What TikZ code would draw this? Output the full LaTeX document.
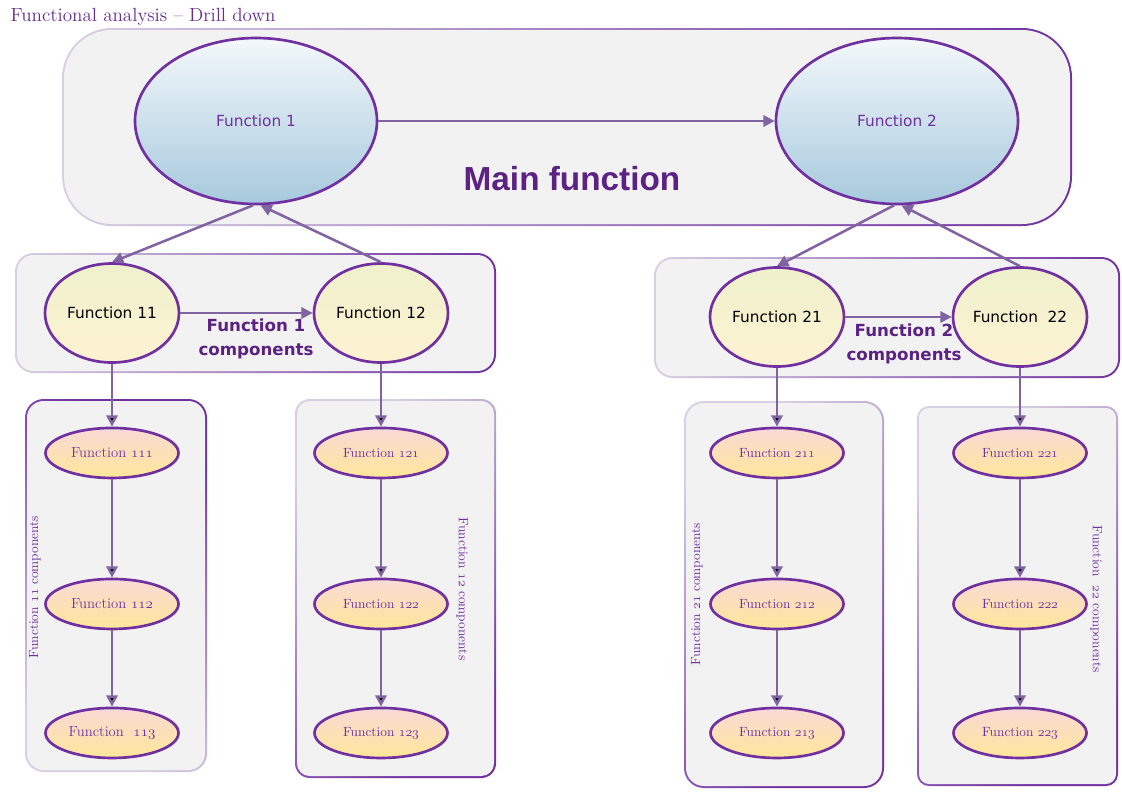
\documentclass[tikz,border=0pt]{standalone}
\usepackage{fontspec}
\usepackage{tikz}
\usetikzlibrary{shapes.geometric,arrows.meta}
\usetikzlibrary{positioning}
\newfontfamily\verdfont{DejaVu Sans}
\newfontfamily\headfont{Liberation Sans}
\newcommand{\ostyle}[1]{{\usefont{OML}{lmm}{m}{it}#1}}

\definecolor{panelfill}{HTML}{F2F2F2}
\definecolor{rimlight}{HTML}{D8D0E2}
\definecolor{rimdark}{HTML}{7030A0}
\definecolor{fnrim}{HTML}{7030A0}
\definecolor{linkcol}{HTML}{8064A2}
\definecolor{fntext}{HTML}{7030A0}
\definecolor{titlecol}{HTML}{652D90}
\definecolor{headcol}{HTML}{5B2283}
\definecolor{bluetop}{HTML}{F3F8FB}
\definecolor{bluebot}{HTML}{A7C9DD}
\definecolor{midtop}{HTML}{EFF1CC}
\definecolor{midbot}{HTML}{FDF2D2}
\definecolor{subtop}{HTML}{F8DAD6}
\definecolor{subbot}{HTML}{FFE699}

\tikzstyle{rim} = [top color=rimlight, bottom color=rimdark]
\tikzstyle{bigfn} =
[
	ellipse,draw=fnrim,line width=2pt,inner sep=0pt,
	minimum width=181.5pt, minimum height=124.5pt,
	top color=bluetop, bottom color=bluebot,
	text=fntext, font=\verdfont\fontsize{11.5}{14}\selectfont
]
\tikzstyle{midfn} =
[
	ellipse,draw=fnrim,line width=2pt,inner sep=0pt,
	minimum width=100.5pt, minimum height=74.25pt,
	top color=midtop, bottom color=midbot,
	text=black, font=\verdfont\fontsize{11.5}{14}\selectfont
]
\tikzstyle{subfn} =
[
	ellipse,draw=fnrim,line width=2pt,inner sep=0pt,
	minimum width=99.75pt, minimum height=37.5pt,
	top color=subtop, bottom color=subbot,
	text=fntext, font=\fontsize{10}{12}\selectfont
]
\tikzstyle{link} = [draw=linkcol, line width=1.9pt, -{Triangle[length=8.5pt,width=8.5pt]}]
\tikzstyle{comptext} = [align=center, text=headcol, font=\verdfont\bfseries\fontsize{12.5}{18}\selectfont]
\tikzstyle{sidetext} = [text=fntext, font=\fontsize{10}{12}\selectfont]

\begin{document}
\begin{tikzpicture}[x=0.75pt,y=-0.75pt]
\useasboundingbox (0,0) rectangle (1122,793);

% panels
\shade[rim, shading angle=90, rounded corners=37.5pt] (62,28) rectangle (1072,226);
\fill[panelfill, rounded corners=36pt] (64,30) rectangle (1070,224);
\shade[rim, shading angle=90, rounded corners=14pt] (15,253) rectangle (496,373);
\fill[panelfill, rounded corners=12.5pt] (17,255) rectangle (494,371);
\shade[rim, shading angle=90, rounded corners=14pt] (654,257) rectangle (1120,378);
\fill[panelfill, rounded corners=12.5pt] (656,259) rectangle (1118,376);
\shade[rim, shading angle=150, rounded corners=14pt] (25,399) rectangle (207,772);
\fill[panelfill, rounded corners=12.5pt] (27,401) rectangle (205,770);
\shade[rim, shading angle=40, rounded corners=11pt] (295,399) rectangle (496,778);
\fill[panelfill, rounded corners=9.5pt] (297,401) rectangle (494,776);
\shade[rim, shading angle=40, rounded corners=15pt] (684,401) rectangle (884,788);
\fill[panelfill, rounded corners=13.5pt] (686,403) rectangle (882,786);
\shade[rim, shading angle=40, rounded corners=9pt] (917,406) rectangle (1118,786);
\fill[panelfill, rounded corners=7.5pt] (919,408) rectangle (1116,784);

\node[anchor=west, text=titlecol, font=\fontsize{14.3}{16}\selectfont] (T) at (6,17) {Functional analysis – Drill down};

% main function
\node[bigfn] (F1) at (256,121) {Function 1};
\node[bigfn] (F2) at (897,121) {Function 2};
\node[text=headcol, font=\headfont\bfseries\fontsize{25}{30}\selectfont] (MF) at (572,179) {Main function};

% first level
\node[midfn] (F11) at (112,313) {Function 11};
\node[midfn] (F12) at (381,313) {Function 12};
\node[midfn] (F21) at (777,317) {Function 21};
\node[midfn] (F22) at (1020,317) {Function~~22};
\node[comptext] (C1) at (256,339) {Function 1\\components};
\node[comptext] (C2) at (904,344) {Function 2\\components};

% second level
\node[subfn, font=\fontsize{11}{13}\selectfont] (F111) [below=47.1pt of F11] {Function \ostyle{111}};
\node[subfn, font=\fontsize{11}{13}\selectfont] (F112) [below=73.75pt of F111] {Function \ostyle{112}};
\node[subfn, font=\fontsize{11}{13}\selectfont] (F113) [below=57.25pt of F112] {Function~~\ostyle{113}};
\node[subfn] (F121) [below=47.1pt of F12] {Function \ostyle{121}};
\node[subfn] (F122) [below=73.75pt of F121] {Function \ostyle{122}};
\node[subfn] (F123) [below=57.25pt of F122] {Function \ostyle{123}};
\node[subfn] (F211) [below=44.1pt of F21] {Function \ostyle{211}};
\node[subfn] (F212) [below=73.75pt of F211] {Function \ostyle{212}};
\node[subfn] (F213) [below=57.25pt of F212] {Function \ostyle{213}};
\node[subfn] (F221) [below=44.1pt of F22] {Function \ostyle{221}};
\node[subfn] (F222) [below=73.75pt of F221] {Function \ostyle{222}};
\node[subfn] (F223) [below=57.25pt of F222] {Function \ostyle{223}};

\node[sidetext, rotate=90] (S11) at (35,587) {Function \ostyle{11} components};
\node[sidetext, rotate=-90] (S12) at (462,589) {Function \ostyle{12} components};
\node[sidetext, rotate=90] (S21) at (697,594) {Function \ostyle{21} components};
\node[sidetext, rotate=-90] (S22) at (1096,599) {Function~~\ostyle{22} components};

% connectors
\draw[link] (F1) -- (F2);
\draw[link] (F1.268) -- (F11.north);
\draw[link] (F12.north) -- (F1.273);
\draw[link] (F2.268) -- (F21.north);
\draw[link] (F22.north) -- (F2.273);
\draw[link] (F11) -- (F12);
\draw[link] (F21) -- (F22);

\path[link]
	(F11) edge (F111)
	(F111) edge (F112)
	(F112) edge (F113)
	(F12) edge (F121)
	(F121) edge (F122)
	(F122) edge (F123)
	(F21) edge (F211)
	(F211) edge (F212)
	(F212) edge (F213)
	(F22) edge (F221)
	(F221) edge (F222)
	(F222) edge (F223);

\end{tikzpicture}
\end{document}
